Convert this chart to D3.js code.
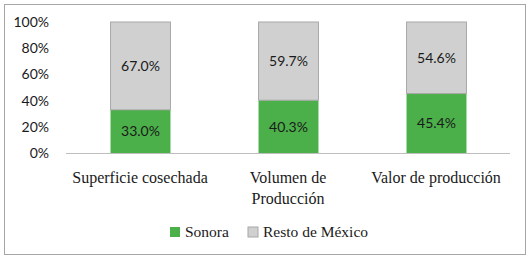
<!DOCTYPE html>
<html>
<head>
<meta charset="utf-8">
<script src="https://cdn.jsdelivr.net/npm/d3@7"></script>
<style>
  body { margin: 0; background: #fff; }
  svg text { fill: #1a1a1a; }
</style>
</head>
<body>
<div id="chart"></div>
<script>
// Data
var categories = [["Superficie cosechada"], ["Volumen de", "Producción"], ["Valor de producción"]];
var sonora     = [33.0, 40.3, 45.4];
var resto      = [67.0, 59.7, 54.6];
var seriesNames = ["Sonora", "Resto de México"];
var seriesColors = ["#4cb04a", "#d0d0d0"];
var yTicks = [0, 20, 40, 60, 80, 100];

var chart_width  = 531;
var chart_height = 262;
var margin = { top: 22, left: 66, right: 21, bottom: 109 };

var svg = d3.select("#chart")
    .append("svg")
    .attr("width", chart_width)
    .attr("height", chart_height);

// outer frame
svg.append("rect")
    .attr("x", 4.5).attr("y", 4.5)
    .attr("width", 521).attr("height", 250)
    .style("fill", "#fff")
    .style("stroke", "#a6a6a6")
    .style("stroke-width", 1);

var x = d3.scaleBand()
    .domain(d3.range(categories.length))
    .range([margin.left, chart_width - margin.right])
    .paddingInner(0.595)
    .paddingOuter(0.2975);

var y = d3.scaleLinear()
    .domain([0, 100])
    .range([chart_height - margin.bottom, margin.top]);

// y axis labels
svg.append("g")
    .selectAll("text")
    .data(yTicks)
    .enter()
    .append("text")
    .attr("x", 49)
    .attr("y", d => y(d) + 5)
    .attr("text-anchor", "end")
    .style("font-family", "Lato, 'Open Sans', sans-serif")
    .style("font-size", "14px")
    .text(d => d + "%");

// stacked bars
var stacks = categories.map((c, i) => [
    { y0: 0, y1: sonora[i], v: sonora[i], s: 0, i: i },
    { y0: sonora[i], y1: sonora[i] + resto[i], v: resto[i], s: 1, i: i }
]);
var segs = [].concat.apply([], stacks);

svg.append("g")
    .selectAll("rect")
    .data(segs)
    .enter()
    .append("rect")
    .attr("x", d => x(d.i) + 0.5)
    .attr("y", d => y(d.y1))
    .attr("width", x.bandwidth())
    .attr("height", d => y(d.y0) - y(d.y1))
    .style("fill", d => seriesColors[d.s])
    .style("stroke", d => d.s == 1 ? "#a8a8a8" : "none")
    .style("stroke-width", 1);

// baseline
svg.append("line")
    .attr("x1", margin.left).attr("x2", chart_width - margin.right)
    .attr("y1", y(0) + 0.5).attr("y2", y(0) + 0.5)
    .style("stroke", "#bfbfbf")
    .style("stroke-width", 1);

// value labels
svg.append("g")
    .selectAll("text")
    .data(segs)
    .enter()
    .append("text")
    .attr("x", d => x(d.i) + x.bandwidth() / 2 + 0.5)
    .attr("y", d => (y(d.y0) + y(d.y1)) / 2 + 5)
    .attr("text-anchor", "middle")
    .style("font-family", "Lato, 'Open Sans', sans-serif")
    .style("font-size", "14px")
    .text(d => d.v.toFixed(1) + "%");

// category labels
var cat = svg.append("g")
    .selectAll("text")
    .data(categories)
    .enter()
    .append("text")
    .attr("x", (d, i) => x(i) + x.bandwidth() / 2)
    .attr("y", 183)
    .attr("text-anchor", "middle")
    .style("font-family", "'Liberation Serif', 'DejaVu Serif', serif")
    .style("font-size", "16px");

cat.selectAll("tspan")
    .data(d => d)
    .enter()
    .append("tspan")
    .attr("x", function() { return d3.select(this.parentNode).attr("x"); })
    .attr("dy", (d, j) => j == 0 ? 0 : 21)
    .text(d => d);

// legend
var legendX = [170, 248];
var legend = svg.append("g")
    .selectAll("g")
    .data(seriesNames)
    .enter()
    .append("g")
    .attr("transform", (d, i) => "translate(" + legendX[i] + ",227)");

legend.append("rect")
    .attr("width", 10).attr("height", 10)
    .style("fill", (d, i) => seriesColors[i])
    .style("stroke", (d, i) => i == 1 ? "#a8a8a8" : "none");

legend.append("text")
    .attr("x", 15)
    .attr("y", 10)
    .style("font-family", "'Liberation Serif', 'DejaVu Serif', serif")
    .style("font-size", "15.5px")
    .text(d => d);
</script>
</body>
</html>
